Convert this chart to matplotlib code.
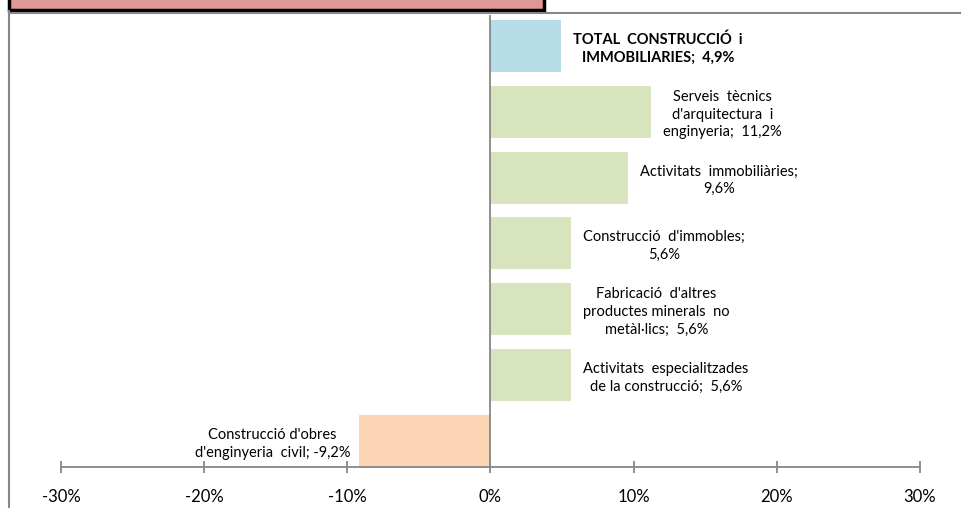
import matplotlib.pyplot as plt
from matplotlib.patches import Rectangle
from matplotlib.lines import Line2D

labels = [
    "TOTAL  CONSTRUCCIÓ  i\nIMMOBILIARIES;  4,9%",
    "Serveis  tècnics\nd'arquitectura  i\nenginyeria;  11,2%",
    "Activitats  immobiliàries;\n9,6%",
    "Construcció  d'immobles;\n5,6%",
    "Fabricació  d'altres\nproductes minerals  no\nmetàl·lics;  5,6%",
    "Activitats  especialitzades\nde la construcció;  5,6%",
    "Construcció d'obres\nd'enginyeria  civil; -9,2%",
]
values = [4.9, 11.2, 9.6, 5.6, 5.6, 5.6, -9.2]
colors = ["#B7DEE8", "#D7E4BD", "#D7E4BD", "#D7E4BD", "#D7E4BD", "#D7E4BD", "#FCD5B5"]
xticks = [-30, -20, -10, 0, 10, 20, 30]

plt.rcParams["font.family"] = ["Lato", "DejaVu Sans"]
gray = "#878787"

fig = plt.figure(figsize=(9.62, 5.08), dpi=100)
ax = fig.add_axes([61 / 962, 41 / 508, 859 / 962, 452 / 508])

ypos = list(range(len(values)))[::-1]
ax.barh(ypos, values, height=0.79, color=colors, zorder=2)
ax.set_xlim(-30, 30)
ax.set_ylim(-0.395, 6.47)

ax.axvline(0, color=gray, lw=1.3, zorder=3)
for s in ["top", "right", "left"]:
    ax.spines[s].set_visible(False)
ax.spines["bottom"].set_color(gray)
ax.spines["bottom"].set_linewidth(1.3)
ax.set_yticks([])
ax.set_xticks(xticks)
ax.set_xticklabels([f"{t}%" for t in xticks], fontsize=12)
ax.tick_params(axis="x", direction="inout", length=8, width=1.3, color=gray, pad=12)

for i, (lab, v) in enumerate(zip(labels, values)):
    bold = i == 0
    ax.annotate(lab, (v, ypos[i]), xytext=(9 if v > 0 else -6, -2),
                textcoords="offset points", va="center",
                ha="left" if v > 0 else "right", multialignment="center",
                fontsize=10.5, fontweight="bold" if bold else "normal",
                linespacing=1.35, color="black")

# frame and cut-off title box at the top
fig.add_artist(Line2D([8.5 / 962, 8.5 / 962], [0, 1 - 11 / 508], transform=fig.transFigure,
                      color=gray, lw=1.5))
fig.add_artist(Line2D([8.5 / 962, 1], [1 - 12.5 / 508, 1 - 12.5 / 508], transform=fig.transFigure,
                      color=gray, lw=1.5))
fig.add_artist(Rectangle((9 / 962, 1 - 10 / 508), 535 / 962, 20 / 508, transform=fig.transFigure,
                         facecolor="#DE9896", edgecolor="black", lw=2.5))

fig.savefig("out.png", dpi=100)
